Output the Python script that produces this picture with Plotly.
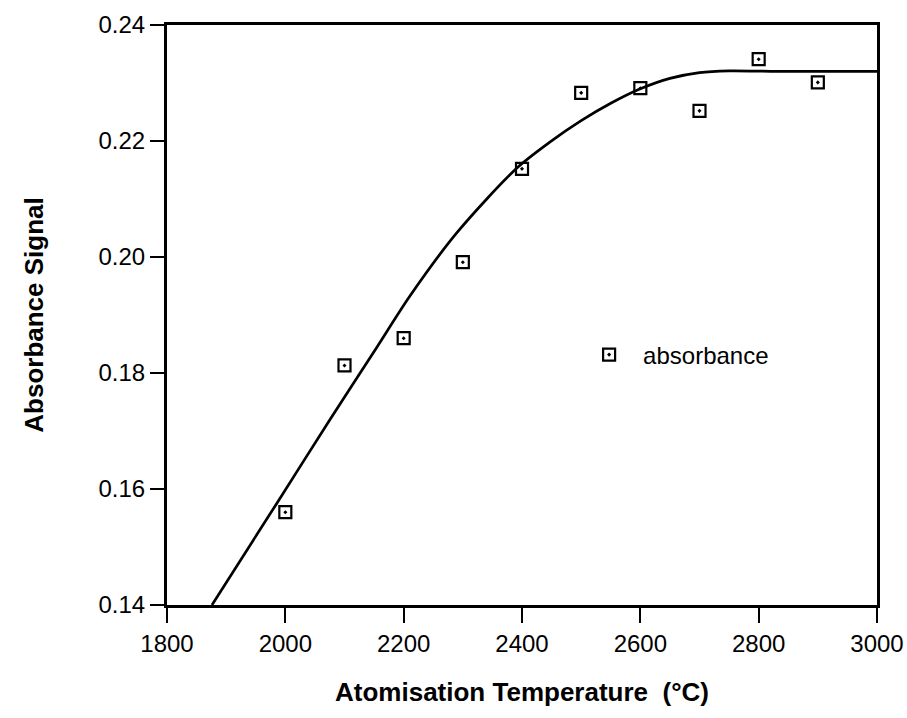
import plotly.graph_objects as go

# measured data points
temperature = [2000, 2100, 2200, 2300, 2400, 2500, 2600, 2700, 2800, 2900]
absorbance = [0.156, 0.1813, 0.186, 0.1991, 0.2152, 0.2283, 0.2291, 0.2252, 0.2341, 0.2301]

# fitted curve
curve_t = [1876, 1986, 2075, 2155, 2210, 2290, 2391, 2447, 2500, 2550, 2600, 2650, 2700, 2750, 2831, 3000]
curve_a = [0.140, 0.1576, 0.1719, 0.1845, 0.1932, 0.2042, 0.2153, 0.2198, 0.2235, 0.2265,
           0.2290, 0.2308, 0.2318, 0.2321, 0.2320, 0.2320]

FONT = "Liberation Sans, Arial, Helvetica, sans-serif"

fig = go.Figure()
fig.add_trace(go.Scatter(
    x=curve_t, y=curve_a, mode="lines", line=dict(color="black", width=2.7, shape="spline", smoothing=0.8),
    showlegend=False, hoverinfo="skip"))
fig.add_trace(go.Scatter(
    x=temperature, y=absorbance, mode="markers", name="absorbance",
    marker=dict(symbol="square-open-dot", size=12, color="black", line=dict(color="black", width=2.2))))

fig.update_layout(
    width=907, height=718,
    margin=dict(l=167, r=30, t=25, b=113, autoexpand=False),
    paper_bgcolor="white", plot_bgcolor="white",
    font=dict(family=FONT, color="black", size=24),
    legend=dict(x=0.5748, y=0.431, xanchor="left", yanchor="middle", bgcolor="rgba(0,0,0,0)",
                font=dict(size=24, family=FONT), itemwidth=58),
)
fig.update_xaxes(
    range=[1800, 3000], dtick=200, tick0=1800, automargin=False,
    showline=True, linecolor="black", linewidth=3, mirror=True,
    ticks="outside", ticklen=15, tickwidth=2, tickcolor="black",
    showgrid=False, zeroline=False,
    tickfont=dict(size=24, family=FONT),
    title=dict(text="Atomisation Temperature  (°C)", standoff=28,
               font=dict(size=26, family=FONT, weight="bold")),
)
fig.update_yaxes(
    range=[0.14, 0.24], dtick=0.02, tick0=0.14, tickformat=".2f", automargin=False,
    showline=True, linecolor="black", linewidth=3, mirror=True,
    ticks="outside", ticklen=14, tickwidth=2, tickcolor="black",
    showgrid=False, zeroline=False,
    tickfont=dict(size=24, family=FONT),
    title=dict(text="Absorbance Signal", standoff=48,
               font=dict(size=26, family=FONT, weight="bold")),
)

fig.write_html("out.html")
